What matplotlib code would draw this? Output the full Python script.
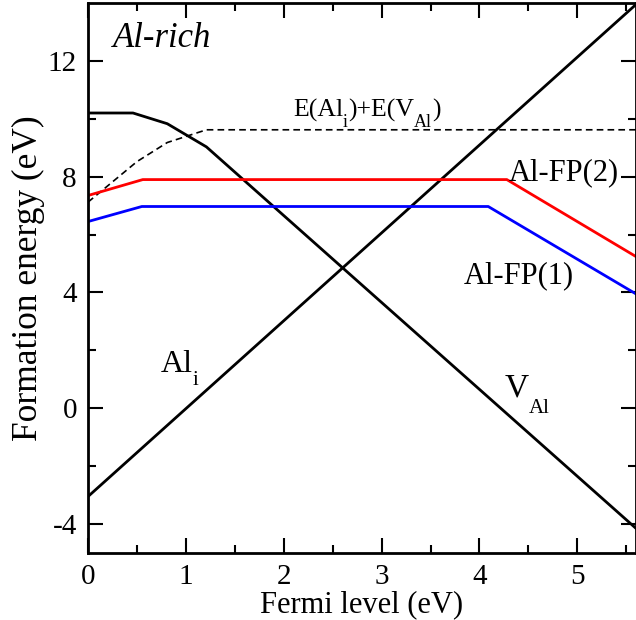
import numpy as np
import matplotlib
matplotlib.use('Agg')
from matplotlib import pyplot as plt

# data
ef_ali = [0.0, 5.6]
e_ali = [-3.05, 13.95]

ef_val = [0.0, 0.46, 0.81, 1.21, 5.6]
e_val = [10.2, 10.2, 9.83, 9.03, -4.15]

ef_sum = [0.0, 0.5, 0.81, 1.21, 5.6]
e_sum = [7.12, 8.52, 9.18, 9.62, 9.62]

ef_fp2 = [0.0, 0.56, 4.28, 5.6]
e_fp2 = [7.35, 7.9, 7.9, 5.24]

ef_fp1 = [0.0, 0.55, 4.09, 5.6]
e_fp1 = [6.45, 6.97, 6.97, 3.95]

xticks = [0, 1, 2, 3, 4, 5]
yticks = [-4, 0, 4, 8, 12]

plt.rcParams['font.family'] = ['Liberation Serif', 'DejaVu Serif']
plt.rcParams['axes.unicode_minus'] = False

fig = plt.figure(figsize=(6.36, 6.2), dpi=100)
ax = fig.add_axes([88/636, 67/620, 548/636, 550/620])

ax.plot(ef_ali, e_ali, color='black', lw=2)
ax.plot(ef_val, e_val, color='black', lw=2)
ax.plot(ef_sum, e_sum, color='black', lw=1.2, ls=(0, (4, 2.5)))
ax.plot(ef_fp2, e_fp2, color='red', lw=2)
ax.plot(ef_fp1, e_fp1, color='blue', lw=2)

ax.set_xlim(0, 5.6)
ax.set_ylim(-5, 14)
ax.set_xticks(xticks)
ax.set_yticks(yticks)
ax.set_xticks(np.arange(0.5, 5.6, 1.0), minor=True)
ax.set_yticks(np.arange(-2, 14, 4), minor=True)
ax.tick_params(which='both', direction='in', top=True, right=True, width=1.5,
               labelsize=21, pad=8)
ax.tick_params(which='major', length=11)
ax.tick_params(which='minor', length=6)
for s in ax.spines.values():
    s.set_linewidth(2)

ax.set_xlabel('Fermi level (eV)', fontsize=22, labelpad=0)
ax.set_ylabel('Formation energy (eV)', fontsize=25.5, labelpad=2)

renderer = fig.canvas.get_renderer()


def sub_label(x, y, parts, size, subsize, drop):
    # text pieces set one after another, subscripts dropped below the baseline
    dx = 0
    for s, is_sub in parts:
        t = ax.annotate(s, (x, y), xytext=(dx, -drop if is_sub else 0),
                        textcoords='offset pixels', va='baseline', ha='left',
                        fontsize=subsize if is_sub else size)
        dx += t.get_window_extent(renderer).width


ax.text(0.256, 12.48, 'Al-rich', fontsize=25, style='italic', ha='left', va='baseline')
sub_label(2.095, 10.06, [('E(Al', False), ('i', True), (')+E(V', False),
                         ('Al', True), (')', False)], 18.5, 13, 10)
ax.text(4.302, 7.89, 'Al-FP(2)', fontsize=22, ha='left', va='baseline')
ax.text(3.842, 4.33, 'Al-FP(1)', fontsize=22, ha='left', va='baseline')
sub_label(0.746, 1.25, [('Al', False), ('i', True)], 23, 15, 13)
sub_label(4.261, 0.39, [('V', False), ('Al', True)], 24, 15, 16)

plt.savefig('out.png', dpi=100)
